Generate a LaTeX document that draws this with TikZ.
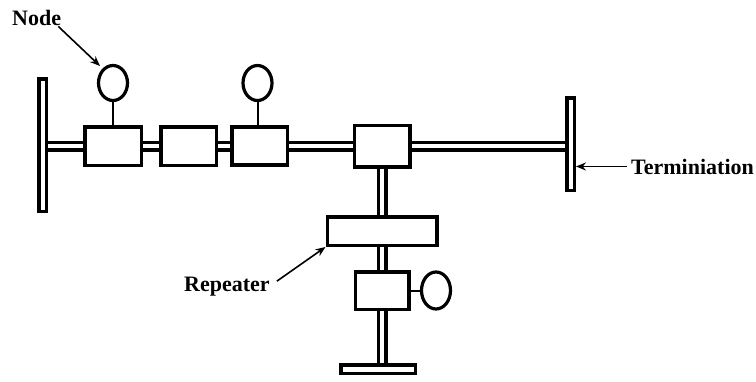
\documentclass[tikz,border=0pt]{standalone}
\usepackage{fontspec}
\setmainfont{Liberation Serif}
\usetikzlibrary{shapes.geometric, arrows.meta}

\tikzset{
  unit/.style={draw, line width=3.5pt, fill=white, inner sep=0pt},
  station/.style={draw, ellipse, line width=3.2pt, fill=white, inner sep=0pt,
    minimum width=29pt, minimum height=35pt},
  term/.style={draw, line width=3.5pt, fill=white, inner sep=0pt},
  bus/.style={double, double distance=4pt, line width=3.5pt},
  stem/.style={line width=2pt},
  pointer/.style={-{Stealth[length=10pt,width=8pt]}, line width=1.6pt},
  tag/.style={font=\bfseries\fontsize{22}{25}\selectfont, inner sep=0pt}
}

\begin{document}
\begin{tikzpicture}[x=1pt, y=-1pt]
    \useasboundingbox (0,0) rectangle (756,381);

    % --- Terminators ---
    \node[term, minimum width=7.5pt, minimum height=132.5pt] (lterm) at (42.5,145) {};
    \node[term, minimum width=7.5pt, minimum height=92.5pt] (rterm) at (570.5,144) {};
    \node[term, minimum width=74.5pt, minimum height=8.5pt] (bterm) at (378,369) {};

    % --- Units on the main bus ---
    \node[unit, minimum width=56.5pt, minimum height=38.5pt] (b1) at (113,146) {};
    \node[unit, minimum width=55.5pt, minimum height=38.5pt] (b2) at (188.5,146) {};
    \node[unit, minimum width=55.5pt, minimum height=38pt] (b3) at (259.5,146) {};
    \node[unit, minimum width=55.5pt, minimum height=41.5pt] (b4) at (382,146) {};

    % --- Branch ---
    \node[unit, minimum width=109.5pt, minimum height=28.5pt] (rep) at (382,231) {};
    \node[unit, minimum width=53.5pt, minimum height=37.5pt] (b5) at (382,290.5) {};

    % --- Stations ---
    \node[station] (c1) at (113,83) {};
    \node[station] (c2) at (257.5,83) {};
    \node[station, minimum height=37pt] (c3) at (436,290.5) {};

    % Stems
    \draw[stem] (c1) -- (b1);
    \draw[stem] (c2) -- (c2 |- b3.north);
    \draw[stem] (b5) -- (c3);

    % --- Bus segments ---
    \draw[bus] (lterm.east |- b1.west) -- (b1.west);
    \draw[bus] (b1) -- (b2);
    \draw[bus] (b2) -- (b3);
    \draw[bus] (b3) -- (b4);
    \draw[bus] (b4.east) -- (b4.east -| rterm.west);
    \draw[bus] (b4) -- (rep);
    \draw[bus] (rep) -- (b5);
    \draw[bus] (b5.south) -- (b5.south |- bterm.north);

    % --- Labels and Pointers ---
    \node[tag, anchor=base west] (nodelbl) at (12,25) {Node};
    \draw[pointer] (nodelbl.south east) ++(-3,1) -- (100,66);

    \node[tag, anchor=base west] (replbl) at (184,291) {Repeater};
    \draw[pointer] (replbl.east) ++(7,-5) -- (rep.south west);

    \node[tag, anchor=base west] (termlbl) at (631,174) {Terminiation};
    \draw[pointer] (termlbl.west) ++(-4,0) -- (rterm.east |- termlbl.west);

\end{tikzpicture}
\end{document}
